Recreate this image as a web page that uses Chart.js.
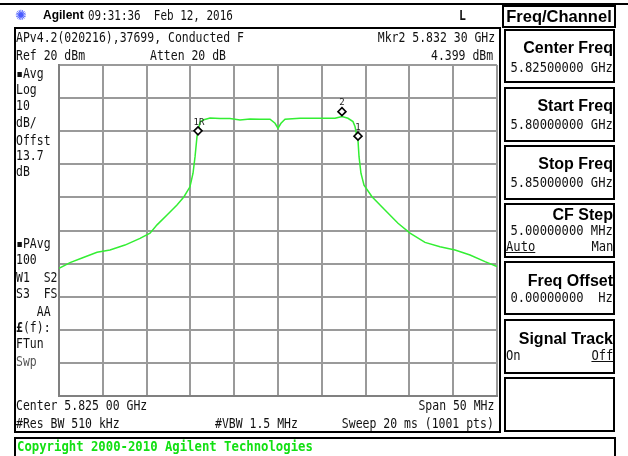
<!DOCTYPE html>
<html>
<head>
<meta charset="utf-8">
<script src="https://cdn.jsdelivr.net/npm/chart.js@4.4.1/dist/chart.umd.min.js"></script>
<style>
  html, body { margin:0; padding:0; background:#fff; }
  #wrap { position:relative; width:628px; height:456px; overflow:hidden; background:#fff; }
  canvas { position:absolute; left:0; top:0; }
  .m { position:absolute; font-family:'DejaVu Sans Mono', monospace; font-size:13.5px; line-height:14px; white-space:pre; color:#111; transform:scaleX(0.85); transform-origin:0 50%; }
  .m.r { transform-origin:100% 50%; }
  .m.v { transform:scaleX(0.9); }
  .b { position:absolute; font-family:'Liberation Sans', Arial, sans-serif; font-weight:bold; font-size:16px; line-height:16px; white-space:pre; color:#000; }
  .box { position:absolute; box-sizing:border-box; border:2px solid #000; }
  .sk { position:absolute; left:504px; width:111px; box-sizing:border-box; border:2px solid #000; }
  .r { text-align:right; }
  u { text-decoration:underline; }
</style>
</head>
<body>
<div id="wrap">
  <canvas id="c" width="628" height="456"></canvas>

  <!-- top rule -->
  <div style="position:absolute;left:0;top:3px;width:628px;height:2px;background:#000"></div>
  <!-- main frame -->
  <div class="box" style="left:14px;top:27px;width:487px;height:406px"></div>
  <!-- copyright box -->
  <div class="box" style="left:14px;top:437px;width:602px;height:30px"></div>

  <!-- header -->
  <div style="position:absolute;left:15px;top:6px;font-family:'DejaVu Sans';font-size:14px;line-height:18px;color:#4a5cff">✺</div>
  <div class="b" style="left:43px;top:8px;font-size:12px;line-height:14px">Agilent</div>
  <div class="m" style="left:88px;top:8px;transform:scaleX(0.81)">09:31:36  Feb 12, 2016</div>
  <div class="m" style="left:459px;top:8px;font-weight:bold">L</div>
  <div class="box" style="left:502px;top:5px;width:114px;height:23px"></div>
  <div class="b" style="left:502px;top:6px;width:114px;text-align:center;font-size:16.5px;line-height:20px">Freq/Channel</div>

  <!-- top annotations -->
  <div class="m" style="left:16px;top:30px">APv4.2(020216),37699, Conducted F</div>
  <div class="m" style="left:16px;top:48px">Ref 20 dBm</div>
  <div class="m" style="left:150px;top:48px">Atten 20 dB</div>
  <div class="m r" style="right:133px;top:30px">Mkr2 5.832 30 GHz</div>
  <div class="m r" style="right:135px;top:48px">4.399 dBm</div>

  <!-- left column -->
  <div class="m" style="left:16px;top:66px">▪Avg</div>
  <div class="m" style="left:16px;top:82px">Log</div>
  <div class="m" style="left:16px;top:98px">10</div>
  <div class="m" style="left:16px;top:115px">dB/</div>
  <div class="m" style="left:16px;top:133px">Offst</div>
  <div class="m" style="left:16px;top:148px">13.7</div>
  <div class="m" style="left:16px;top:164px">dB</div>
  <div class="m" style="left:16px;top:236px">▪PAvg</div>
  <div class="m" style="left:16px;top:252px">100</div>
  <div class="m" style="left:16px;top:270px">W1  S2</div>
  <div class="m" style="left:16px;top:286px">S3  FS</div>
  <div class="m" style="left:16px;top:304px">   AA</div>
  <div class="m" style="left:16px;top:320px"><b>£</b>(f):</div>
  <div class="m" style="left:16px;top:336px">FTun</div>
  <div class="m" style="left:16px;top:354px;color:#555">Swp</div>

  <!-- bottom annotations -->
  <div class="m" style="left:16px;top:398px">Center 5.825 00 GHz</div>
  <div class="m" style="left:16px;top:416px">#Res BW 510 kHz</div>
  <div class="m" style="left:215px;top:416px">#VBW 1.5 MHz</div>
  <div class="m r" style="right:134px;top:398px">Span 50 MHz</div>
  <div class="m r" style="right:134px;top:416px">Sweep 20 ms (1001 pts)</div>
  <div class="m" style="left:17px;top:439px;font-weight:bold;color:#12e012;transform:scaleX(0.91)">Copyright 2000-2010 Agilent Technologies</div>

  <!-- softkeys -->
  <div class="sk" style="top:29px;height:54px"></div>
  <div class="b r" style="right:15px;top:40px">Center Freq</div>
  <div class="m r v" style="right:15px;top:60px">5.82500000 GHz</div>

  <div class="sk" style="top:87px;height:55px"></div>
  <div class="b r" style="right:15px;top:98px">Start Freq</div>
  <div class="m r v" style="right:15px;top:117px">5.80000000 GHz</div>

  <div class="sk" style="top:145px;height:55px"></div>
  <div class="b r" style="right:15px;top:156px">Stop Freq</div>
  <div class="m r v" style="right:15px;top:175px">5.85000000 GHz</div>

  <div class="sk" style="top:203px;height:55px"></div>
  <div class="b r" style="right:15px;top:207px">CF Step</div>
  <div class="m r v" style="right:15px;top:223px">5.00000000 MHz</div>
  <div class="m v" style="left:506px;top:239px"><u>Auto</u></div>
  <div class="m r v" style="right:15px;top:239px">Man</div>

  <div class="sk" style="top:261px;height:54px"></div>
  <div class="b r" style="right:15px;top:273px">Freq Offset</div>
  <div class="m r v" style="right:15px;top:290px">0.00000000  Hz</div>

  <div class="sk" style="top:319px;height:55px"></div>
  <div class="b r" style="right:15px;top:331px">Signal Track</div>
  <div class="m v" style="left:506px;top:348px">On</div>
  <div class="m r v" style="right:15px;top:348px"><u>Off</u></div>

  <div class="sk" style="top:377px;height:55px"></div>
</div>

<script>
// ---- data (frequency in MHz, level in dBm) ----
const freqMHz = [
  5800.00, 5801.26, 5802.63, 5804.34, 5805.82, 5807.53, 5809.25, 5810.39, 5811.19,
  5812.33, 5813.47, 5814.27, 5814.95, 5815.30, 5815.53, 5815.75, 5815.87, 5816.10,
  5816.44, 5817.24, 5818.40, 5819.52, 5820.66, 5821.80, 5822.95, 5824.09, 5824.66,
  5825.00, 5825.34, 5825.80, 5827.51, 5829.79, 5831.51, 5832.31, 5832.99, 5833.56,
  5833.79, 5834.02, 5834.13, 5834.25, 5834.47, 5834.82, 5835.73, 5837.21, 5838.70,
  5840.07, 5841.78, 5843.49, 5845.21, 5846.92, 5848.63, 5850.00
];
const levelDbm = [
  -41.4, -39.7, -38.3, -36.6, -35.9, -34.4, -32.4, -30.8, -28.3,
  -25.3, -22.3, -19.8, -16.8, -12.7, -7.7, -1.7, 0.0, 2.7,
  3.4, 4.0, 3.8, 3.8, 3.4, 3.7, 3.6, 3.6, 2.4,
  0.9, 2.4, 3.6, 3.9, 3.9, 3.9, 4.4, 3.9, 2.9,
  1.4, -1.6, -2.7, -7.7, -12.7, -16.3, -19.8, -23.8, -27.8,
  -30.8, -33.6, -34.9, -35.9, -37.4, -39.4, -40.9
];
const markerLabels = ['1R', '2', '1'];
const markerFreq = [5815.87, 5832.30, 5834.13];
const markerDbm = [-1.4, 4.399, -3.0];

const xTicks = [5800, 5805, 5810, 5815, 5820, 5825, 5830, 5835, 5840, 5845, 5850];
const yTicks = [20, 10, 0, -10, -20, -30, -40, -50, -60, -70, -80];

const trace = freqMHz.map((f, i) => ({ x: f, y: levelDbm[i] }));

const markerPlugin = {
  id: 'markers',
  afterDatasetsDraw(chart) {
    const { ctx, scales: { x, y } } = chart;
    ctx.save();
    markerFreq.forEach((f, i) => {
      const px = x.getPixelForValue(f);
      const py = y.getPixelForValue(markerDbm[i]) - 5;
      ctx.beginPath();
      ctx.moveTo(px, py - 4);
      ctx.lineTo(px + 4, py);
      ctx.lineTo(px, py + 4);
      ctx.lineTo(px - 4, py);
      ctx.closePath();
      ctx.fillStyle = '#fff';
      ctx.fill();
      ctx.lineWidth = 1.6;
      ctx.strokeStyle = '#000';
      ctx.stroke();
      ctx.fillStyle = '#222';
      ctx.font = '9px "DejaVu Sans Mono"';
      ctx.textAlign = 'center';
      ctx.textBaseline = 'bottom';
      ctx.fillText(markerLabels[i], px + (markerLabels[i].length > 1 ? 1 : 0), py - 4);
    });
    ctx.restore();
  }
};

new Chart(document.getElementById('c'), {
  type: 'line',
  data: {
    datasets: [{
      data: trace,
      borderColor: '#33ee33',
      borderWidth: 1.5,
      pointRadius: 0,
      tension: 0,
      fill: false
    }]
  },
  options: {
    responsive: false,
    animation: false,
    events: [],
    layout: { padding: { left: 59, right: 131, top: 65, bottom: 60 } },
    plugins: { legend: { display: false }, tooltip: { enabled: false } },
    scales: {
      x: {
        type: 'linear', min: 5800, max: 5850,
        afterBuildTicks: s => { s.ticks = xTicks.map(v => ({ value: v })); },
        afterFit: s => { s.height = 0; },
        ticks: { display: false },
        grid: { color: '#9a9a9a', lineWidth: 2, drawTicks: false },
        border: { display: true, color: '#808080', width: 2 }
      },
      y: {
        type: 'linear', min: -80, max: 20,
        afterBuildTicks: s => { s.ticks = yTicks.map(v => ({ value: v })); },
        afterFit: s => { s.width = 0; },
        ticks: { display: false },
        grid: { color: '#9a9a9a', lineWidth: 2, drawTicks: false },
        border: { display: true, color: '#808080', width: 2 }
      }
    }
  },
  plugins: [markerPlugin]
});
</script>
</body>
</html>
